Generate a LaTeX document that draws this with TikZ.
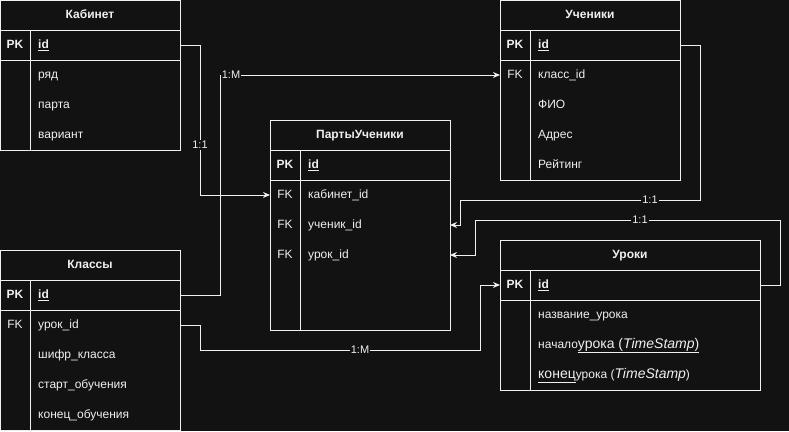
\documentclass[tikz,border=0pt]{standalone}
\usepackage{fontspec}
\setmainfont{Liberation Sans}
\usetikzlibrary{arrows.meta,positioning}
\definecolor{bg}{RGB}{18,18,18}
\definecolor{fg}{RGB}{240,240,240}

\begin{document}
\begin{tikzpicture}
[x=1pt,y=-1pt,>={Stealth[length=7pt,width=6pt]},
line/.style = {draw=fg, line width=1pt},
head/.style = {text=fg, inner sep=0pt, text height=9pt, text depth=2.5pt, font=\bfseries\fontsize{12}{14}\selectfont},
pkey/.style = {text=fg, inner sep=0pt, text height=9pt, text depth=2.5pt, font=\bfseries\fontsize{12}{14}\selectfont},
fkey/.style = {text=fg, inner sep=0pt, text height=9pt, text depth=2.5pt, font=\fontsize{12}{14}\selectfont},
cell/.style = {anchor=west, text=fg, inner sep=0pt, text height=9pt, text depth=2.5pt, font=\fontsize{12}{14}\selectfont},
card/.style = {fill=bg, text=fg, inner sep=1pt, font=\fontsize{11}{13}\selectfont},
link/.style = {draw=fg, line width=1pt, ->},]
\fill[bg] (0,0) rectangle (789,431);
\useasboundingbox (0,0) rectangle (789,431);
% Кабинет
\draw[line] (0,0) rectangle (180,150);
\draw[line] (0,30) -- (180,30);
\draw[line] (0,60) -- (180,60);
\draw[line] (30,30) -- (30,150);
\node (kab) at (90,15)[head] {Кабинет};
\node (kab-pk) at (15,45)[pkey] {PK};
\node (kab-id) at (38,45)[cell] {\textbf{\underline{id}}};
\node (kab-r1) at (38,75)[cell] {ряд};
\node (kab-r2) at (38,105)[cell] {парта};
\node (kab-r3) at (38,135)[cell] {вариант};
\coordinate (kab-idR) at (180,45);
% Ученики
\draw[line] (500,0) rectangle (680,180);
\draw[line] (500,30) -- (680,30);
\draw[line] (500,60) -- (680,60);
\draw[line] (530,30) -- (530,180);
\node (uch) at (590,15)[head] {Ученики};
\node (uch-pk) at (515,45)[pkey] {PK};
\node (uch-id) at (538,45)[cell] {\textbf{\underline{id}}};
\node (uch-fk) at (515,75)[fkey] {FK};
\node (uch-r1) at (538,75)[cell] {класс\_id};
\node (uch-r2) at (538,105)[cell] {ФИО};
\node (uch-r3) at (538,135)[cell] {Адрес};
\node (uch-r4) at (538,165)[cell] {Рейтинг};
\coordinate (uch-idR) at (680,45);
\coordinate (uch-fkL) at (500,75);
% ПартыУченики
\draw[line] (270,120) rectangle (450,330);
\draw[line] (270,150) -- (450,150);
\draw[line] (270,180) -- (450,180);
\draw[line] (300,150) -- (300,330);
\node (pu) at (360,135)[head] {ПартыУченики};
\node (pu-pk) at (285,165)[pkey] {PK};
\node (pu-id) at (308,165)[cell] {\textbf{\underline{id}}};
\node (pu-fk1) at (285,195)[fkey] {FK};
\node (pu-r1) at (308,195)[cell] {кабинет\_id};
\node (pu-fk2) at (285,225)[fkey] {FK};
\node (pu-r2) at (308,225)[cell] {ученик\_id};
\node (pu-fk3) at (285,255)[fkey] {FK};
\node (pu-r3) at (308,255)[cell] {урок\_id};
\coordinate (pu-kabL) at (270,195);
\coordinate (pu-uchR) at (450,225);
\coordinate (pu-urR) at (450,255);
% Классы
\draw[line] (0,250) rectangle (180,430);
\draw[line] (0,280) -- (180,280);
\draw[line] (0,310) -- (180,310);
\draw[line] (30,280) -- (30,430);
\node (kl) at (90,265)[head] {Классы};
\node (kl-pk) at (15,295)[pkey] {PK};
\node (kl-id) at (38,295)[cell] {\textbf{\underline{id}}};
\node (kl-fk) at (15,325)[fkey] {FK};
\node (kl-r1) at (38,325)[cell] {урок\_id};
\node (kl-r2) at (38,355)[cell] {шифр\_класса};
\node (kl-r3) at (38,385)[cell] {старт\_обучения};
\node (kl-r4) at (38,415)[cell] {конец\_обучения};
\coordinate (kl-idR) at (180,295);
\coordinate (kl-fkR) at (180,325);
% Уроки
\draw[line] (500,240) rectangle (760,390);
\draw[line] (500,270) -- (760,270);
\draw[line] (500,300) -- (760,300);
\draw[line] (530,270) -- (530,390);
\node (ur) at (630,255)[head] {Уроки};
\node (ur-pk) at (515,285)[pkey] {PK};
\node (ur-id) at (538,285)[cell] {\textbf{\underline{id}}};
\node (ur-r1) at (538,315)[cell] {название\_урока};
\node (ur-r2) at (538,345)[cell] {начало{\fontsize{14}{16}\selectfont\underline{урока (\textit{TimeStamp})}}};
\node (ur-r3) at (538,375)[cell] {{\fontsize{14}{16}\selectfont\underline{конец}}урока ({\fontsize{14}{16}\selectfont\textit{TimeStamp}})};
\coordinate (ur-idL) at (500,285);
\coordinate (ur-idR) at (760,285);
% связи
\draw[link] (kab-idR) -| (200,195) -- (pu-kabL);
\draw[link] (kl-idR) -| (220,75) -- (uch-fkL);
\draw[link] (uch-idR) -| (700,200) -| (460,225) -- (pu-uchR);
\draw[link] (ur-idR) -| (780,220) -| (475,255) -- (pu-urR);
\draw[link] (kl-fkR) -| (200,350) -| (480,285) -- (ur-idL);
\node (c1) at (200,145)[card] {1:1};
\node (c2) at (231,75)[card] {1:M};
\node (c3) at (650,200)[card] {1:1};
\node (c4) at (640,220)[card] {1:1};
\node (c5) at (360,350)[card] {1:M};
\end{tikzpicture}
\end{document}
